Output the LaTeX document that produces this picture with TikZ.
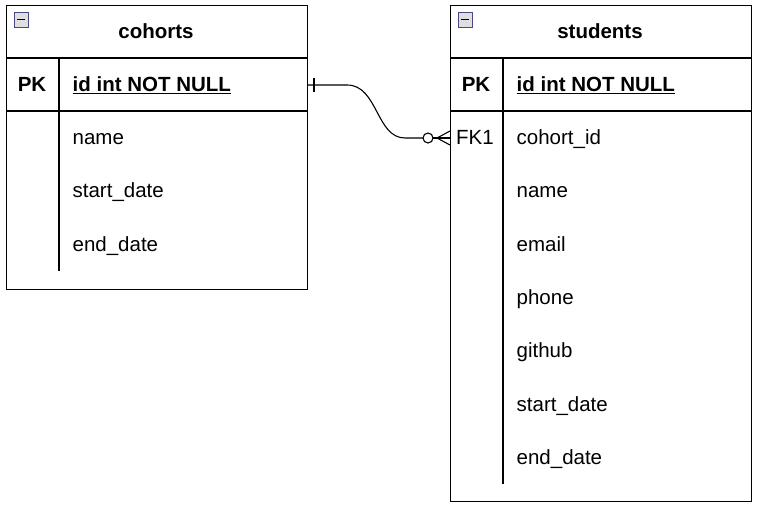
\documentclass[tikz,border=0pt]{standalone}
\usepackage{fontspec}
\setmainfont{Liberation Sans}
\begin{document}
\begin{tikzpicture}[x=1pt,y=-1pt,line width=1.3pt,
  every node/.style={font=\fontsize{20.5}{24}\selectfont,inner sep=0pt,text height=15pt,text depth=4pt},
  tbl/.style={draw,rectangle,anchor=north west,minimum width=301pt,text height=,text depth=},
  title/.style={font=\fontsize{20.5}{24}\selectfont\bfseries},
  field/.style={anchor=west},
  keyname/.style={font=\fontsize{20.5}{24}\selectfont\bfseries},
  fold/.style={draw=gray!70!blue!80!black,fill=gray!25,line width=1pt}]

\useasboundingbox (0,0) rectangle (759,512);

% cohorts table
\node[tbl,minimum height=284pt] (cohorts) at (6,5) {};
\draw (6,58) -- (307,58);
\draw (6,111) -- (307,111);
\draw (59,58) -- (59,271);
\draw[fold] (14,12) rectangle (28,27);
\draw[line width=1.5pt] (17,19.5) -- (25,19.5);
\node[title] (c-title) at (156,33) {cohorts};
\node[keyname] (c-pk) at (32,86) {PK};
\node[field,keyname] (c-id) at (72,86) {\underline{id int NOT NULL}};
\node[field] (c-name) at (72,139) {name};
\node[field] (c-start) at (72,192) {start\_date};
\node[field] (c-end) at (72,246) {end\_date};

% students table
\node[tbl,minimum height=496pt] (students) at (450,5) {};
\draw (450,58) -- (751,58);
\draw (450,111) -- (751,111);
\draw (503,58) -- (503,484);
\draw[fold] (458,12) rectangle (472,27);
\draw[line width=1.5pt] (461,19.5) -- (469,19.5);
\node[title] (s-title) at (600,33) {students};
\node[keyname] (s-pk) at (476,86) {PK};
\node (s-fk) at (475,139) {FK1};
\node[field,keyname] (s-id) at (516,86) {\underline{id int NOT NULL}};
\node[field] (s-cohort) at (516,139) {cohort\_id};
\node[field] (s-name) at (516,192) {name};
\node[field] (s-email) at (516,246) {email};
\node[field] (s-phone) at (516,299) {phone};
\node[field] (s-github) at (516,352) {github};
\node[field] (s-start) at (516,406) {start\_date};
\node[field] (s-end) at (516,459) {end\_date};

% relation cohorts 1 -- 0..n students
\coordinate (c-out) at (307,85);
\coordinate (s-in) at (450,138);
\coordinate (s-ring) at (428,138);
\coordinate (s-foot) at (437,138);
\draw[line width=1.1pt] (c-out) -- ++(40,0) .. controls (378,85) and (376,138) .. (405,138) -- ([xshift=-5pt]s-ring);
\draw[line width=1.1pt] ([xshift=7pt]c-out) ++(0,-7) -- ++(0,14);
\draw[line width=1.1pt] (s-ring) circle (5pt);
\draw[line width=1.1pt] ([xshift=5pt]s-ring) -- (s-in);
\draw[line width=1.1pt] ([yshift=7pt]s-in) -- (s-foot) -- ([yshift=-7pt]s-in);
\end{tikzpicture}
\end{document}
